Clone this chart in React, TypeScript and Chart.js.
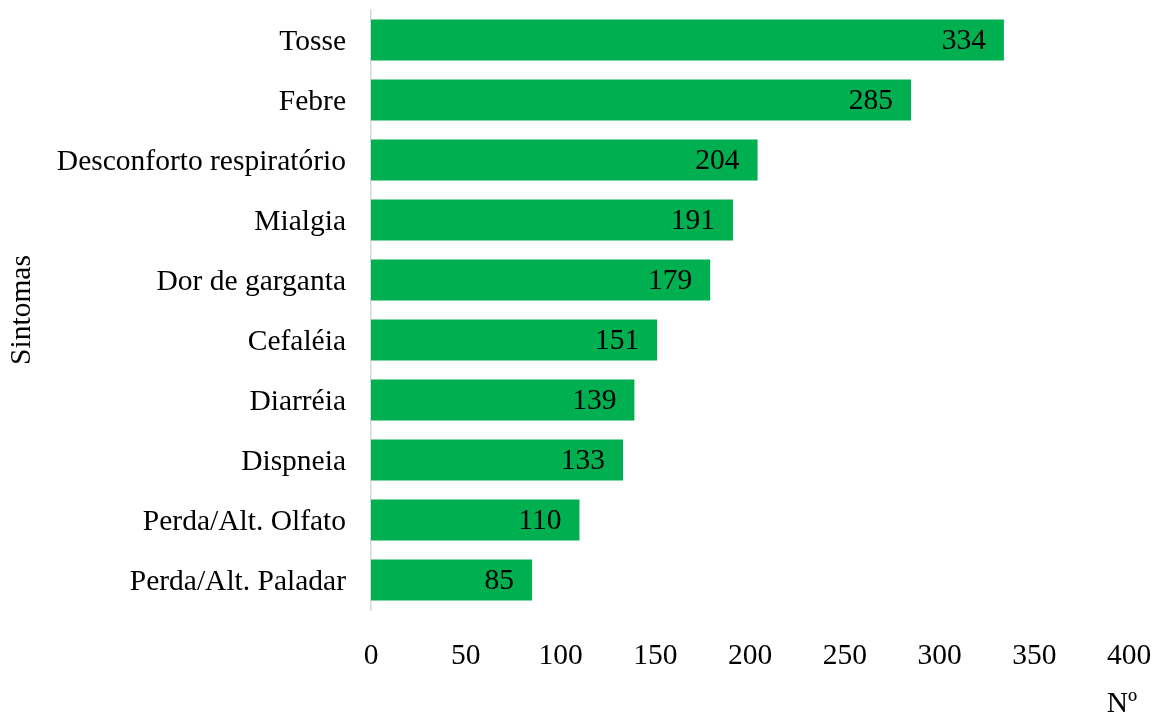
import React, { useEffect, useRef } from "react";
import { Chart, registerables } from "chart.js";

Chart.register(...registerables);

const categories = [
  "Tosse",
  "Febre",
  "Desconforto respiratório",
  "Mialgia",
  "Dor de garganta",
  "Cefaléia",
  "Diarréia",
  "Dispneia",
  "Perda/Alt. Olfato",
  "Perda/Alt. Paladar",
];
const values = [334, 285, 204, 191, 179, 151, 139, 133, 110, 85];
const xMin = 0;
const xMax = 400;
const xStep = 50;
const xTitle = "Nº";
const yTitle = "Sintomas";

const FONT = "'Liberation Serif', 'Times New Roman', serif";
const FS = 29.5;
const FS_LABEL = 29.5;

const labelPlugin = {
  id: "barLabels",
  afterDatasetsDraw(chart: any) {
    const ctx = chart.ctx;
    const meta = chart.getDatasetMeta(0);
    ctx.save();
    ctx.font = `${FS_LABEL}px ${FONT}`;
    ctx.fillStyle = "#000";
    ctx.textAlign = "right";
    ctx.textBaseline = "middle";
    meta.data.forEach((bar: any, i: number) => {
      ctx.fillText(String(values[i]), bar.x - 18, bar.y + 1);
    });
    // x axis title
    const xs = chart.scales.x;
    ctx.font = `${FS}px ${FONT}`;
    ctx.textAlign = "center";
    ctx.textBaseline = "alphabetic";
    ctx.fillText(xTitle, xs.right - 7, 712);
    ctx.restore();
  },
};

export default function App() {
  const ref = useRef<HTMLCanvasElement>(null);
  useEffect(() => {
    if (!ref.current) return;
    const chart = new Chart(ref.current, {
      type: "bar",
      data: {
        labels: categories,
        datasets: [
          {
            data: values,
            backgroundColor: "#00B050",
            borderWidth: 0,
            barPercentage: 0.683,
            categoryPercentage: 1,
          },
        ],
      },
      options: {
        indexAxis: "y",
        animation: false,
        responsive: false,
        devicePixelRatio: 1,
        layout: { padding: { top: 10, right: 29, left: 0, bottom: 0 } },
        plugins: {
          legend: { display: false },
          tooltip: { enabled: false },
        },
        scales: {
          x: {
            min: xMin,
            max: xMax,
            ticks: {
              stepSize: xStep,
              color: "#000",
              font: { family: FONT, size: FS },
              padding: 29,
              maxRotation: 0,
            },
            grid: { display: false, drawTicks: false },
            border: { display: false },
            title: { display: false },
            afterFit(scale: any) {
              scale.height = 107;
              scale.paddingLeft = 0;
              scale.paddingRight = 0;
              scale.paddingTop = 0;
              scale.paddingBottom = 0;
            },
          },
          y: {
            ticks: {
              color: "#000",
              font: { family: FONT, size: FS },
              padding: 25,
              labelOffset: 2,
            },
            grid: { display: false, drawTicks: false },
            border: { display: true, color: "#d9d9d9", width: 1.5 },
            title: {
              display: true,
              text: yTitle,
              color: "#000",
              font: { family: FONT, size: FS },
              padding: { top: 5, bottom: 0 },
            },
            afterFit(scale: any) {
              scale.width = 371;
              scale.paddingLeft = 0;
              scale.paddingRight = 0;
              scale.paddingTop = 0;
              scale.paddingBottom = 0;
            },
          },
        },
      } as any,
      plugins: [labelPlugin],
    });
    return () => chart.destroy();
  }, []);
  return (
    <div style={{ position: "fixed", left: 0, top: 0, width: 1158, height: 717, background: "#fff" }}>
      <canvas ref={ref} width={1158} height={717} style={{ width: 1158, height: 717 }} />
    </div>
  );
}
